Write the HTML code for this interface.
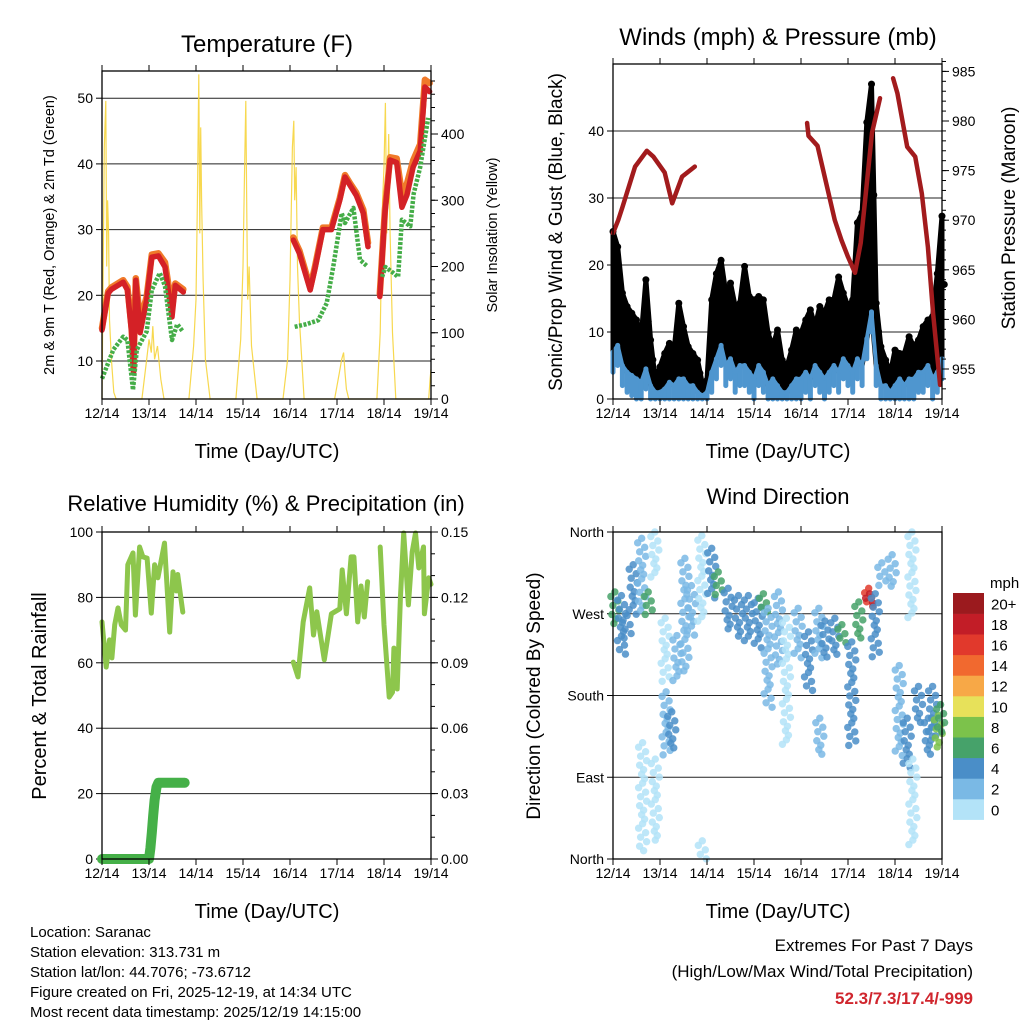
<!DOCTYPE html>
<html><head><meta charset="utf-8">
<style>
html,body{margin:0;padding:0;background:#fff;}
svg{display:block;font-family:"Liberation Sans",sans-serif;}
</style></head>
<body>
<svg id="c" width="1024" height="1024" viewBox="0 0 1024 1024" xmlns="http://www.w3.org/2000/svg">
<rect width="1024" height="1024" fill="#fff"/>
<g id="g1"></g>
<g id="g2"></g>
<g id="g3"></g>
<g id="g4"></g>
<g id="g5">
<text x="30" y="937" font-size="15">Location: Saranac</text>
<text x="30" y="957" font-size="15">Station elevation: 313.731 m</text>
<text x="30" y="977" font-size="15">Station lat/lon: 44.7076; -73.6712</text>
<text x="30" y="997" font-size="15">Figure created on Fri, 2025-12-19, at 14:34 UTC</text>
<text x="30" y="1017" font-size="15">Most recent data timestamp: 2025/12/19 14:15:00</text>
<text x="973" y="951" font-size="17" text-anchor="end">Extremes For Past 7 Days</text>
<text x="973" y="977" font-size="17" text-anchor="end">(High/Low/Max Wind/Total Precipitation)</text>
<text x="973" y="1004" font-size="17" font-weight="bold" fill="#d0262e" text-anchor="end">52.3/7.3/17.4/-999</text>
</g>
</svg>
<script>
// ---------- DATA ----------
const dayLabels = ["12/14","13/14","14/14","15/14","16/14","17/14","18/14","19/14"];
const tempT = [0,0.13,0.2,0.45,0.54,0.63,0.67,0.72,0.81,0.95,1.06,1.2,1.34,1.49,1.56,1.73,null,4.07,4.2,4.43,4.53,4.7,4.88,5.06,5.17,5.28,5.41,5.56,5.66,null,5.91,6.02,6.13,6.27,6.38,6.49,6.62,6.77,6.87,6.97];
const tempRed = [14.7,20.3,20.9,22,20.8,14.3,8.2,22.3,14.3,19.3,25.8,26,24.3,16.7,21.5,20.5,null,28.4,26.4,20.8,24,30,30,34.5,38,36.7,35.2,32.5,27.4,null,19.8,32.5,40.6,40.2,33.4,35.3,39.5,42,51.7,51];
const tempOrange = [15,20.6,21.2,22.3,21.3,15,9,22.6,16,19.8,26.2,26.4,25,18,21.8,20.9,null,28.8,26.8,21.2,24.3,30.3,30.3,34.8,38.3,37,35.6,33,28,null,20.2,33,41,40.8,35.5,37,40.5,43,52.8,52.3];
const tdT = [0,0.24,0.45,0.54,0.66,0.74,0.95,1.06,1.23,1.34,1.49,1.6,1.72,null,4.1,4.35,4.6,4.78,4.92,5.1,5.17,5.35,5.49,5.63,null,5.96,6.03,6.2,6.3,6.38,6.56,6.63,6.77,6.94];
const tdVal = [7.3,11.7,13.7,13.2,5.6,11.7,14.5,20.8,23.4,21.4,13.2,15.6,14.5,null,15.2,15.6,16.2,18.8,24.3,32.5,31,33.3,25.4,24.5,null,22.8,24.3,23.4,22.8,31.5,30.5,35.4,39.5,47];
const solarT = [0,0.02,0.05,0.08,0.1,0.12,0.14,0.16,0.2,0.25,0.3,0.85,0.95,1.0,1.05,1.08,1.12,1.18,1.25,1.32,1.85,1.95,2.0,2.03,2.06,2.08,2.1,2.12,2.15,2.2,2.3,2.85,2.95,3.0,3.03,3.06,3.08,3.1,3.13,3.18,3.3,3.85,3.95,4.0,4.05,4.08,4.1,4.13,4.16,4.2,4.3,4.95,5.0,5.05,5.1,5.14,5.17,5.2,5.25,5.85,5.92,5.97,6.0,6.03,6.06,6.1,6.13,6.18,6.25,6.95,6.98,7.0];
const solarVal = [0,150,380,450,200,300,250,120,60,10,0,0,60,90,70,110,60,80,30,0,0,80,150,300,490,250,410,300,180,60,0,0,90,200,330,450,280,150,200,80,0,0,60,180,380,420,300,350,200,120,0,0,20,40,60,70,40,15,0,0,100,300,350,447,250,400,250,100,0,0,30,45];
const windGust = [25,22.7,15.8,13.8,12.8,11.8,9.3,17.8,8.8,2.8,4.8,6.8,8.3,7.3,14.3,10.8,7.8,6.8,5.8,2.3,2.8,14.8,18.7,20.7,15.8,17.3,13.8,14.3,19.8,15.3,14.8,15.3,14.8,9.8,7.8,10.3,5.8,4.8,7.3,10.3,9.8,11.8,13.3,10.8,13.8,12.8,14.8,14.8,18.2,15.8,13.8,14.8,26.3,27.8,41.3,47,14.3,7.8,5.8,3.8,7.3,6.8,6.8,9.3,7.8,8.8,10.8,11.8,12.3,18.7,27.3];
const windMean = [7,8,5,4,3.5,3,2.5,4.5,2,1,1,1.5,2.5,2,3,3,2,2,1,0.5,1,4,6,8,5,6,4,5,5,4,3,5,4,2,3,2,1,1,2,3,3,4,3,5,4,3,4,5,4,6,5,4,6,5,9,13,5,2,2,1,2,3,2,3,3,4,4,5,3,4,6];
const presT = [0,0.11,0.2,0.47,0.72,0.86,1.1,1.26,1.47,1.74,null,4.13,4.16,4.35,4.72,4.86,5.0,5.15,5.27,5.51,5.68,null,5.96,6.05,6.26,6.43,6.57,6.7,6.81,6.96];
const presVal = [968.7,970,971.3,975.4,977,976.4,974.8,971.7,974.4,975.4,null,979.8,978.5,977.5,970,968,966.3,964.7,967.7,978.8,982.3,null,984.3,982.8,977.4,976.4,972.7,967.3,960.6,953.4];
const rhT = [0,0.09,0.16,0.21,0.27,0.34,0.41,0.5,0.55,0.66,0.71,0.8,0.87,0.96,1.05,1.12,1.19,1.33,1.44,1.51,1.58,1.61,1.72,null,4.07,4.17,4.28,4.42,4.5,4.57,4.73,4.88,5.06,5.11,5.2,5.3,5.36,5.44,5.51,5.58,5.65,null,5.92,6.0,6.11,6.18,6.21,6.28,6.35,6.42,6.52,6.6,6.67,6.74,6.84,6.86,6.95,7.0];
const rhVal = [72.5,58.7,67,61.5,71.6,76.8,71.6,70,90,93.6,74.6,95.4,92.4,92,75.2,90,86,96.6,69.4,87.8,82,87,75.5,null,60.2,55.7,72.5,82.9,68.5,75.6,60.9,75,76.5,88.4,75,92.4,92.4,72.5,83.5,74,84.8,null,95.4,71.6,49.5,51,64.5,52,79.8,99.7,77.7,93.9,99.7,89,95.4,75,86,84];
const precipT = [0,0.5,1.0,1.03,1.06,1.09,1.12,1.16,1.2,1.5,1.76];
const precipVal = [0,0,0,0.005,0.012,0.02,0.027,0.033,0.035,0.035,0.035];
const dirDay = [0.04,0.18,0.3,0.43,0.61,0.63,0.75,0.89,0.9,1.11,1.13,1.25,1.36,1.53,1.67,1.89,1.9,2.1,2.24,2.45,2.67,2.88,3.09,3.2,3.3,3.52,3.69,3.94,4.16,4.38,4.4,4.51,4.72,4.87,5.08,5.23,5.44,5.46,5.58,5.72,5.94,6.09,6.26,6.36,6.38,6.5,6.71,6.8,6.92,6.97];
const dirLo = [258,225,240,266,272,5,269,309,20,195,111,122,195,206,246,258,0,283,287,250,245,240,228,272,166,213,125,221,184,221,111,222,225,236,125,240,276,282,220,300,298,111,96,265,15,150,111,130,122,140];
const dirHi = [294,290,268,324,353,128,294,360,110,265,184,162,246,331,301,356,20,342,316,298,290,290,287,292,276,294,265,276,250,276,155,262,265,258,239,283,298,292,292,326,335,213,155,360,110,190,155,190,158,170];
const dirSpd = [7,5,4.5,4,3,1.5,6,1,1,1,3,4,3,2,3,1,1,5,7,4,5,4,4,7,2,3,1,2,4,2,2,4,4,6,4,7,16,19,4,2,2,3,4,1,1,4,4,5,9,7];
const cbLabels = ["0","2","4","6","8","10","12","14","16","18","20+"];
const cbColors = ["#b3e3f8","#7ab9e5","#4a8ec8","#46a26a","#7cc24b","#e7e15a","#f7a847","#f1692f","#e1392c","#c21d27","#9b1a1e"];

// ---------- HELPERS ----------
const NS="http://www.w3.org/2000/svg";
function mk(parent,tag,attrs){const e=document.createElementNS(NS,tag);for(const k in attrs)e.setAttribute(k,attrs[k]);parent.appendChild(e);return e;}
function txt(parent,x,y,s,size,anchor,rot){const t=mk(parent,"text",{x:x,y:y,"font-size":size,"text-anchor":anchor||"middle"});if(rot)t.setAttribute("transform","rotate(-90 "+x+" "+y+")");t.textContent=s;return t;}
function pathFrom(ts,vs,fx,fy){let d="",pen=false;for(let i=0;i<ts.length;i++){if(ts[i]===null||vs[i]===null){pen=false;continue;}d+=(pen?"L":"M")+fx(ts[i]).toFixed(1)+" "+fy(vs[i]).toFixed(1);pen=true;}return d;}

function frame(g,x0,x1,y0,y1){
  for(let i=0;i<=7;i++){const x=x0+(x1-x0)*i/7;
    const tk=mk(g,"line",{x1:x,x2:x,y1:y1,y2:y1+6,stroke:"#000","stroke-width":1});
    
    mk(g,"line",{x1:x,x2:x,y1:y0,y2:y0-6,stroke:"#000","stroke-width":1});
    const t=txt(g,x,y1+19,dayLabels[i],14);
    }
  const r=mk(g,"rect",{x:x0,y:y0,width:x1-x0,height:y1-y0,fill:"none",stroke:"#000","stroke-width":1.3});
  
}
function leftAxis(g,x0,x1,vals,labels,fy,grid){
  vals.forEach((v,i)=>{const y=fy(v);
    if(grid){const gl=mk(g,"line",{x1:x0,x2:x1,y1:y,y2:y,stroke:"#222","stroke-width":1});}
    mk(g,"line",{x1:x0-6,x2:x0,y1:y,y2:y,stroke:"#000"});
    const t=txt(g,x0-9,y+5,labels[i],14,"end");});
}
function rightAxis(g,x1,vals,labels,fy,minor){
  if(minor)minor.forEach(v=>{const y=fy(v);mk(g,"line",{x1:x1,x2:x1+4,y1:y,y2:y,stroke:"#000"});});
  vals.forEach((v,i)=>{const y=fy(v);mk(g,"line",{x1:x1,x2:x1+7,y1:y,y2:y,stroke:"#000"});
    const t=txt(g,x1+10,y+5,labels[i],14,"start");});
}
function range(a,b,s){const r=[];for(let v=a;v<=b+1e-9;v+=s)r.push(+v.toFixed(4));return r;}

// ---------- PANEL 1 ----------
(function(){
  const g=document.getElementById("g1");
  const x0=102,x1=431,y0=71,y1=399;
  const fx=d=>x0+(x1-x0)*d/7;
  const fy=v=>361-(v-10)*6.57;
  const fs=v=>399-v*0.6625;
  leftAxis(g,x0,x1,[10,20,30,40,50],["10","20","30","40","50"],fy,true);
  const sp=mk(g,"path",{d:pathFrom(solarT,solarVal,fx,fs),fill:"none",stroke:"#f6d43c","stroke-width":1.2,"stroke-opacity":0.9});
  
  const op=mk(g,"path",{d:pathFrom(tempT,tempOrange,fx,fy),fill:"none",stroke:"#f07a2a","stroke-width":6.5,"stroke-linejoin":"round","stroke-linecap":"round"});
  
  const rp=mk(g,"path",{d:pathFrom(tempT,tempRed,fx,fy),fill:"none",stroke:"#d42126","stroke-width":5.5,"stroke-linejoin":"round","stroke-linecap":"round"});
  
  const gp=mk(g,"path",{d:pathFrom(tdT,tdVal,fx,fy),fill:"none",stroke:"#45ad48","stroke-width":4.5,"stroke-dasharray":"3 1.5","stroke-linejoin":"round"});
  
  rightAxis(g,x1,[0,100,200,300,400],["0","100","200","300","400"],fs,range(0,480,20));
  frame(g,x0,x1,y0,y1);
  let t=txt(g,267,52,"Temperature (F)",24);
  t=txt(g,267,458,"Time (Day/UTC)",20);
  t=txt(g,54,235,"2m & 9m T (Red, Orange) & 2m Td (Green)",14.5,"middle",true);
  t=txt(g,497,235,"Solar Insolation (Yellow)",14.5,"middle",true);
})();

// ---------- PANEL 2 ----------
(function(){
  const g=document.getElementById("g2");
  const x0=613,x1=942,y0=64,y1=399;
  const fx=d=>x0+(x1-x0)*d/7;
  const fy=v=>399-v*6.7;
  const fp=v=>369-(v-955)*9.92;
  leftAxis(g,x0,x1,[0,10,20,30,40],["0","10","20","30","40"],fy,true);
  // gust cloud as area between mean and gust
  const n=windGust.length;
  let d="M"+fx(0)+" "+fy(windMean[0]);
  for(let i=0;i<n;i++)d+="L"+fx(i*0.1).toFixed(1)+" "+fy(windGust[i]).toFixed(1);
  for(let i=n-1;i>=0;i--)d+="L"+fx(i*0.1).toFixed(1)+" "+fy(windMean[i]).toFixed(1);
  const area=mk(g,"path",{d:d+"Z",fill:"#000",stroke:"#000","stroke-width":5,"stroke-linejoin":"round"});
  
  for(let i=0;i<n;i++){const x=fx(i*0.1);
    const c=mk(g,"circle",{cx:x,cy:fy(windGust[i]),r:3.5,fill:"#000"});
    
    const c2=mk(g,"circle",{cx:x+2.3,cy:fy((windGust[i]+windMean[i])/2)-3,r:3.5,fill:"#000"});
    }
  for(let i=0;i<windMean.length;i++){const x=fx(i*0.1);
    const b=mk(g,"line",{x1:x,x2:x,y1:fy(Math.max(0,windMean[i]-3)),y2:fy(windMean[i]),stroke:"#4f96cf","stroke-width":5,"stroke-linecap":"round"});
    }
  const mt=windMean.map((v,i)=>i*0.1);
  const mp=mk(g,"path",{d:pathFrom(mt,windMean,fx,fy),fill:"none",stroke:"#4f96cf","stroke-width":4,"stroke-linejoin":"round"});
  
  const pp=mk(g,"path",{d:pathFrom(presT,presVal,fx,fp),fill:"none",stroke:"#a21b1d","stroke-width":4.5,"stroke-linejoin":"round","stroke-linecap":"round"});
  
  rightAxis(g,x1,[955,960,965,970,975,980,985],["955","960","965","970","975","980","985"],fp,range(953,986,1));
  frame(g,x0,x1,y0,y1);
  let t=txt(g,778,45,"Winds (mph) & Pressure (mb)",24);
  t=txt(g,778,458,"Time (Day/UTC)",20);
  t=txt(g,562,232,"Sonic/Prop Wind & Gust (Blue, Black)",19,"middle",true);
  t=txt(g,1015,218,"Station Pressure (Maroon)",19,"middle",true);
})();

// ---------- PANEL 3 ----------
(function(){
  const g=document.getElementById("g3");
  const x0=102,x1=431,y0=532,y1=859;
  const fx=d=>x0+(x1-x0)*d/7;
  const fy=v=>859-v*3.27;
  const fr=v=>859-v/0.15*327;
  leftAxis(g,x0,x1,[0,20,40,60,80,100],["0","20","40","60","80","100"],fy,true);
  const rp=mk(g,"path",{d:pathFrom(rhT,rhVal,fx,fy),fill:"none",stroke:"#8dc64c","stroke-width":5,"stroke-linejoin":"round","stroke-linecap":"round"});
  
  const pp=mk(g,"path",{d:pathFrom(precipT,precipVal,fx,fr),fill:"none",stroke:"#45b048","stroke-width":10,"stroke-linejoin":"round","stroke-linecap":"round"});
  
  rightAxis(g,x1,[0,0.03,0.06,0.09,0.12,0.15],["0.00","0.03","0.06","0.09","0.12","0.15"],fr,range(0,0.15,0.01));
  frame(g,x0,x1,y0,y1);
  let t=txt(g,266,511,"Relative Humidity (%) & Precipitation (in)",22);
  t=txt(g,267,918,"Time (Day/UTC)",20);
  t=txt(g,46,696,"Percent & Total Rainfall",20,"middle",true);
})();

// ---------- PANEL 4 ----------
(function(){
  const g=document.getElementById("g4");
  const x0=613,x1=942,y0=532,y1=859;
  const fx=d=>x0+(x1-x0)*d/7;
  const fy=v=>859-v/360*327;
  leftAxis(g,x0,x1,[0,90,180,270,360],["North","East","South","West","North"],fy,false);
  [90,180,270].forEach(v=>{const gl=mk(g,"line",{x1:x0,x2:x1,y1:fy(v),y2:fy(v),stroke:"#222"});});
  const col=s=>cbColors[Math.min(10,Math.floor(s/2))];
  const offs=[0,-4,3,-2,4,-3,1,-1,2];
  for(let i=0;i<dirDay.length;i++){
    const x=fx(dirDay[i]);const ya=fy(dirHi[i]),yb=fy(dirLo[i]);
    let k=0;
    for(let y=ya;y<=yb+0.1;y+=4.5){
      const c=mk(g,"circle",{cx:x+offs[k%offs.length],cy:y,r:3.7,fill:col(dirSpd[i]),"fill-opacity":0.85});
      k++;}
  }
  frame(g,x0,x1,y0,y1);
  const cb0=593,cbh=20.6;
  for(let i=0;i<11;i++){const y=cb0+(10-i)*cbh;
    const r=mk(g,"rect",{x:953,y:y,width:31,height:cbh+0.3,fill:cbColors[i]});
    
    const t=txt(g,991,y+cbh/2+6,cbLabels[i],15,"start");}
  let t=txt(g,990,588,"mph",15,"start");
  t=txt(g,778,504,"Wind Direction",22);
  t=txt(g,778,918,"Time (Day/UTC)",20);
  t=txt(g,540,696,"Direction (Colored By Speed)",19,"middle",true);
})();
</script>
</body></html>
